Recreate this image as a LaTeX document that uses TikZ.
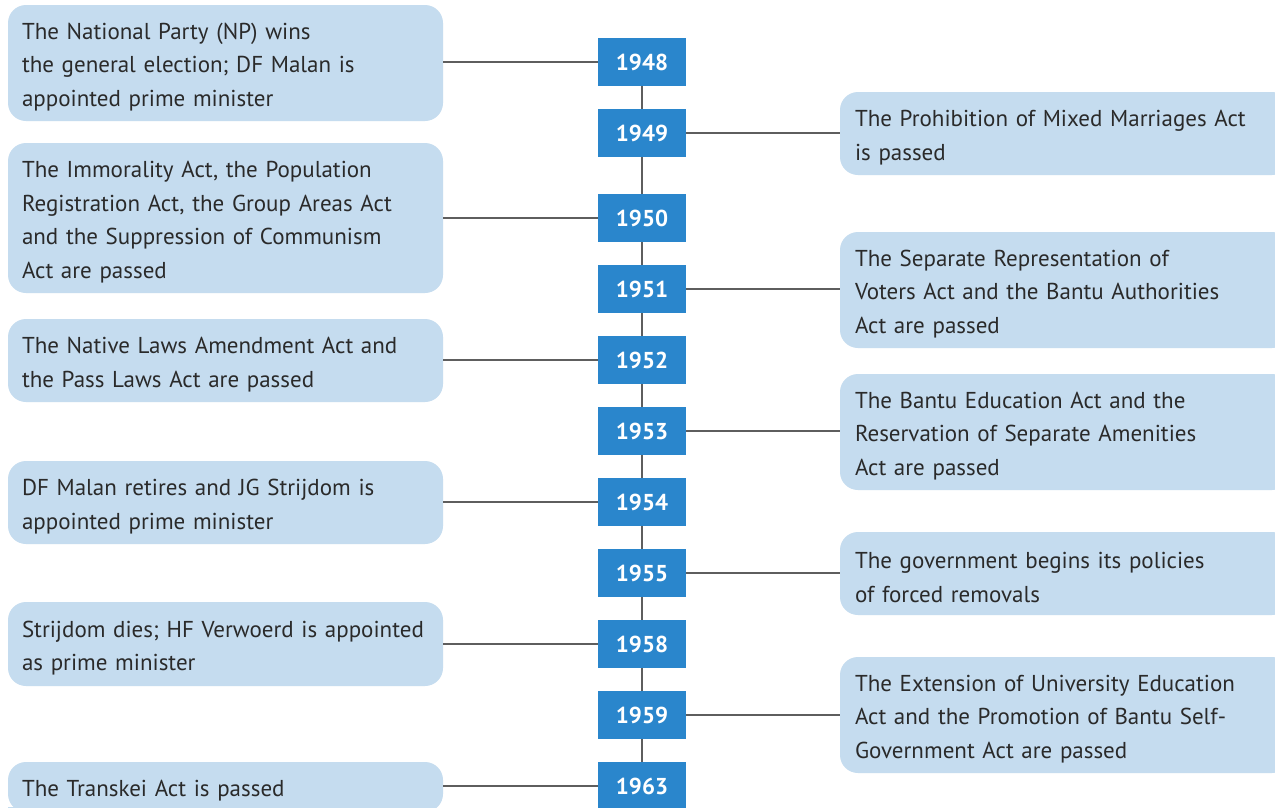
\documentclass[tikz,border=0pt]{standalone}
\usepackage{fontspec}
\setmainfont{PT Sans}
\usetikzlibrary{backgrounds}
\definecolor{boxfill}{HTML}{C5DCEF}
\definecolor{yearblue}{HTML}{2A86CC}
\definecolor{linegray}{HTML}{5E5E5E}
\definecolor{txt}{HTML}{2A2A2A}
\newcommand{\firstlift}{\rule{0pt}{24.5pt}}
\tikzset{
  lbox/.style={fill=boxfill, rounded corners=18pt, minimum width=435pt, text width=407pt,
    inner xsep=14pt, inner ysep=0pt, align=left, text=txt,
    font=\fontsize{23}{33.5}\selectfont, execute at begin node=\firstlift},
  rbox/.style={fill=boxfill, rounded corners=18pt, minimum width=450pt, text width=420pt,
    inner xsep=15pt, inner ysep=0pt, align=left, text=txt,
    font=\fontsize{23}{33.5}\selectfont, execute at begin node=\firstlift},
  year/.style={fill=yearblue, minimum width=88pt, minimum height=48pt, inner sep=0pt,
    text=white, font=\fontsize{23}{26}\selectfont\bfseries},
  conn/.style={draw=linegray, line width=1.6pt},
}
\begin{document}
\begin{tikzpicture}[x=1pt,y=-1pt]
\useasboundingbox[fill=white] (0,0) rectangle (1275,807);
% year boxes
\foreach \yr/\yy in {1948/62,1949/133,1950/218,1951/289,1952/360,1953/431,1954/502,1955/573,1958/644,1959/715,1963/786}
  \node[year] (y\yr) at (642,\yy) {\yr};
% left boxes
\node[lbox, minimum height=116pt] (t48) at (225.5,63) {The National Party (NP) wins\\the general election; DF Malan is\\appointed prime minister};
\node[lbox, minimum height=150pt] (t50) at (225.5,218) {The Immorality Act, the Population\\Registration Act, the Group Areas Act\\and the Suppression of Communism\\Act are passed};
\node[lbox, minimum height=83pt] (t52) at (225.5,360.5) {The Native Laws Amendment Act and\\the Pass Laws Act are passed};
\node[lbox, minimum height=83pt] (t54) at (225.5,502.5) {DF Malan retires and JG Strijdom is\\appointed prime minister};
\node[lbox, minimum height=84pt] (t58) at (225.5,644) {Strijdom dies; HF Verwoerd is appointed\\as prime minister};
\node[lbox, minimum height=50pt] (t63) at (225.5,787) {The Transkei Act is passed};
% right boxes
\node[rbox, minimum height=83pt] (t49) at (1065,133.5) {The Prohibition of Mixed Marriages Act\\is passed};
\node[rbox, minimum height=116pt] (t51) at (1065,290) {The Separate Representation of\\Voters Act and the Bantu Authorities\\Act are passed};
\node[rbox, minimum height=116pt] (t53) at (1065,432) {The Bantu Education Act and the\\Reservation of Separate Amenities\\Act are passed};
\node[rbox, minimum height=83pt] (t55) at (1065,573.5) {The government begins its policies\\of forced removals};
\node[rbox, minimum height=116pt] (t59) at (1065,715) {The Extension of University Education\\Act and the Promotion of Bantu Self-\\Government Act are passed};
% sharp left edges of left boxes
\begin{scope}[on background layer]
  \foreach \n in {t48,t50,t52,t54,t58,t63}
    \fill[boxfill] (\n.north west) rectangle ([xshift=-60pt]\n.south east);
\end{scope}
% connectors
\foreach \a/\b in {48/49,49/50,50/51,51/52,52/53,53/54,54/55,55/58,58/59,59/63}
  \draw[conn] (y19\a.south) -- (y19\b.north);
\foreach \n in {48,50,52,54,58,63}
  \draw[conn] (t\n.east |- y19\n.west) -- (y19\n.west);
\foreach \n in {49,51,53,55,59}
  \draw[conn] (y19\n.east) -- (t\n.west |- y19\n.east);
\end{tikzpicture}
\end{document}
